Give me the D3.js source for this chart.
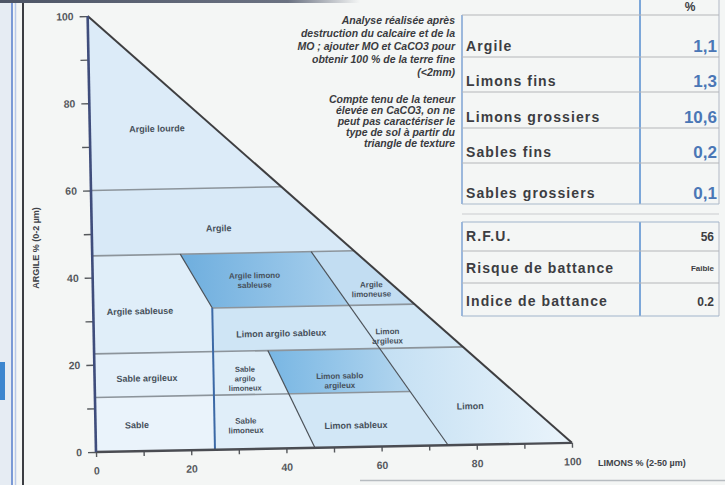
<!DOCTYPE html>
<html><head><meta charset="utf-8">
<script src="https://cdn.jsdelivr.net/npm/d3@7"></script>
<style>
body{margin:0;background:#f4f6f5;}
svg{display:block;font-family:"Liberation Sans",Arial,sans-serif;}
</style></head><body>
<svg id="c" width="725" height="485"></svg>
<script>
// Texture classes of the triangle, vertices given as [limon %, argile %]
const classNames = ["Argile lourde","Argile","Argile sableuse","Argile limono sableuse","Argile limoneuse",
  "Limon argilo sableux","Limon argileux","Sable argileux","Sable argilo limoneux","Limon sablo argileux",
  "Limon","Sable","Sable limoneux","Limon sableux"];
const classPolygons = [
  [[0,60],[0,100],[40,60]],
  [[0,45],[0,60],[40,60],[55,45]],
  [[0,22.5],[0,45],[18.5,45],[25,32.5],[25,22.5]],
  [[18.5,45],[46,45],[53.8,32.5],[25,32.5]],
  [[46,45],[55,45],[67.5,32.5],[53.8,32.5]],
  [[25,32.5],[53.8,32.5],[60,22.5],[25,22.5]],
  [[53.8,32.5],[67.5,32.5],[77.5,22.5],[60,22.5]],
  [[0,12.5],[0,22.5],[25,22.5],[25,12.5]],
  [[25,12.5],[25,22.5],[36.5,22.5],[40.7,12.5]],
  [[36.5,22.5],[60,22.5],[66.2,12.5],[40.7,12.5]],
  [[60,22.5],[77.5,22.5],[100,0],[74,0],[66.2,12.5]],
  [[0,0],[0,12.5],[25,12.5],[25,0]],
  [[25,0],[25,12.5],[40.7,12.5],[46,0]],
  [[46,0],[40.7,12.5],[66.2,12.5],[74,0]]
];
// Class boundaries
const clayLines = [[0,40,60],[0,55,45],[25,67.5,32.5],[0,77.5,22.5],[0,66.2,12.5]]; // [from limon, to limon, argile]
const slantLines = [[[18.5,45],[25,32.5]],[[46,45],[74,0]],[[36.5,22.5],[46,0]]];
const sandLimit = [[25,0],[25,32.5]];
const limonTicks = [0,10,20,30,40,50,60,70,80,90,100];
const argileTicks = [0,10,20,30,40,50,60,70,80,90,100];

// Laboratory results
const fractionLabels = ["Argile","Limons fins","Limons grossiers","Sables fins","Sables grossiers"];
const fractionValues = ["1,1","1,3","10,6","0,2","0,1"];
const indicatorLabels = ["R.F.U.","Risque de battance","Indice de battance"];
const indicatorValues = ["56","Faible","0.2"];
const noteAnalyse = ["Analyse réalisée après","destruction du calcaire et de la","MO ; ajouter MO et CaCO3 pour","obtenir 100 % de la terre fine","(<2mm)"];
const noteCalcaire = ["Compte tenu de la teneur","élevée en CaCO3, on ne","peut pas caractériser le","type de sol à partir du","triangle de texture"];

// Class styling and label anchors
const classFill = ["#dcebf8","#d8e9f7","#e0eef9","url(#gDark)","#c2ddf2","#cfe5f5","#d2e7f6",
  "#e4f0fa","#ddedf8","url(#gDark2)","url(#gLimon)","#eaf3fb","#e0eef9","#d2e7f6"];
const labelAt = [[14.1,73.9],[26.7,50.8],[9.8,32.1],[34,38.8],[58.5,36.2],[39.4,26.4],[61.7,25.4],
  [11,16.7],[31.6,16.3],[51.5,15.4],[78.8,8.9],[8.7,6],[31.6,5.5],[54.7,5]];
const labelLines = [["Argile lourde"],["Argile"],["Argile sableuse"],["Argile limono","sableuse"],["Argile","limoneuse"],
  ["Limon argilo sableux"],["Limon","argileux"],["Sable argileux"],["Sable","argilo","limoneux"],["Limon sablo","argileux"],
  ["Limon"],["Sable"],["Sable","limoneux"],["Limon sableux"]];

const svg = d3.select("#c");
const defs = svg.append("defs");
function grad(id, stops){
  const g = defs.append("linearGradient").attr("id",id).attr("x1","0").attr("x2","1").attr("y1","0").attr("y2","0");
  stops.forEach(([o,c]) => g.append("stop").attr("offset",o).attr("stop-color",c));
}
grad("gDark",[[0,"#6eaede"],[1,"#a9d0ed"]]);
grad("gDark2",[[0,"#78b6e3"],[1,"#b3d6ef"]]);
grad("gLimon",[[0,"#c3dff3"],[1,"#eaf4fb"]]);
grad("gTop",[[0,"#4d5566"],[0.8,"#6b7282"],[1,"#f4f6f5"]]);

// page frame
svg.append("rect").attr("x",0).attr("y",0).attr("width",11).attr("height",485).attr("fill","#e6ecf3");
svg.append("rect").attr("x",0).attr("y",362).attr("width",5).attr("height",38).attr("fill","#3d86cf");
svg.append("line").attr("x1",12).attr("x2",12).attr("y1",0).attr("y2",485).attr("stroke","#7b9ad6").attr("stroke-width",2);
svg.append("line").attr("x1",15.5).attr("x2",15.5).attr("y1",0).attr("y2",485).attr("stroke","#b9c9e8").attr("stroke-width",1.5);
svg.append("line").attr("x1",23).attr("x2",23).attr("y1",0).attr("y2",485).attr("stroke","#3b3d42").attr("stroke-width",2);
svg.append("rect").attr("x",0).attr("y",0).attr("width",360).attr("height",3).attr("fill","url(#gTop)");
svg.append("line").attr("x1",360).attr("x2",725).attr("y1",480.5).attr("y2",480.5).attr("stroke","#b7bcc1").attr("stroke-width",1.5);

const x = d3.scaleLinear().domain([0,100]).range([96,572]);
const y = d3.scaleLinear().domain([0,100]).range([452,16]);
const pt = d => [x(d[0]), y(d[1])];

const g = svg.append("g").attr("transform","rotate(-1.1,96,452)");

g.selectAll("path.cls").data(classPolygons).join("path").attr("class","cls")
  .attr("d", p => "M" + p.map(pt).join("L") + "Z")
  .attr("fill",(p,i) => classFill[i]).attr("stroke","none");

const line = d3.line().x(d => x(d[0])).y(d => y(d[1]));
g.selectAll("path.clay").data(clayLines).join("path").attr("class","clay")
  .attr("d", c => line([[c[0],c[2]],[c[1],c[2]]]))
  .attr("stroke","#8c949b").attr("stroke-width",1.6).attr("fill","none");
g.selectAll("path.slant").data(slantLines).join("path").attr("class","slant")
  .attr("d", line).attr("stroke","#4c5259").attr("stroke-width",1.2).attr("fill","none");
g.append("path").attr("d", line(sandLimit)).attr("stroke","#3c69a6").attr("stroke-width",2).attr("fill","none");

// triangle edges
g.append("path").attr("d", line([[0,100],[100,0]])).attr("stroke","#3e3e40").attr("stroke-width",2).attr("fill","none");

// axes
const xAxis = d3.axisBottom(x).tickValues(limonTicks).tickSize(5).tickPadding(10)
  .tickFormat(d => d % 20 === 0 ? d : "");
const gx = g.append("g").attr("transform",`translate(0,${y(0)})`).call(xAxis);
const yAxis = d3.axisLeft(y).tickValues(argileTicks).tickSize(8).tickPadding(6)
  .tickFormat(d => d % 20 === 0 ? d : "");
const gy = g.append("g").attr("transform",`translate(${x(0)},0)`).call(yAxis);
[gx,gy].forEach(a => {
  a.select(".domain").remove();
  a.selectAll(".tick line").attr("stroke","#55585c").attr("stroke-width",1.4);
  a.selectAll(".tick text").attr("fill","#56595e").attr("font-size",10.5).attr("font-weight","bold");
});
g.append("path").attr("d", line([[0,0],[100,0]])).attr("stroke","#4a4c52").attr("stroke-width",2.4).attr("fill","none");
g.append("path").attr("d", line([[0,0],[0,100]])).attr("stroke","#3f4d7c").attr("stroke-width",2.6).attr("fill","none");

// class names
const lbl = g.selectAll("text.cl").data(labelLines).join("text").attr("class","cl")
  .attr("x",(d,i) => x(labelAt[i][0])).attr("y",(d,i) => y(labelAt[i][1]))
  .attr("text-anchor","middle").attr("fill","#46505b")
  .attr("font-size",d => d.length > 2 ? 7.5 : d.length > 1 ? 8 : 9).attr("font-weight","bold");
lbl.each(function(d){
  const t = d3.select(this), h = d.length > 1 ? 9.5 : 10;
  d.forEach((s,k) => t.append("tspan").attr("x", t.attr("x"))
    .attr("dy", k === 0 ? (-(d.length-1)*h/2 + 3.2) : h).text(s));
});

// axis titles
svg.append("text").attr("transform","translate(39,248) rotate(-90)").attr("text-anchor","middle")
  .attr("font-size",9).attr("font-weight","bold").attr("fill","#404248").text("ARGILE % (0-2 µm)");
svg.append("text").attr("x",598).attr("y",466).attr("font-size",9).attr("font-weight","bold")
  .attr("fill","#404248").text("LIMONS % (2-50 µm)");

// notes
function note(lines, y0, dy){
  svg.append("g").selectAll("text").data(lines).join("text")
    .attr("x",455).attr("y",(d,i) => y0 + i*dy).attr("text-anchor","end")
    .attr("font-size",10.5).attr("font-weight","bold").attr("font-style","italic").attr("fill","#3a3b40").text(d => d);
}
note(noteAnalyse, 24, 13);
note(noteCalcaire, 103, 11);

// results table
const tb = svg.append("g");
const rowB = [15,57,92,128,163,204];
tb.append("line").attr("x1",640).attr("x2",640).attr("y1",0).attr("y2",204).attr("stroke","#6f9fd6").attr("stroke-width",1.8);
tb.append("line").attr("x1",462).attr("x2",462).attr("y1",15).attr("y2",204).attr("stroke","#86a9d6").attr("stroke-width",1.6);
tb.append("line").attr("x1",719).attr("x2",719).attr("y1",0).attr("y2",204).attr("stroke","#c4cbd3").attr("stroke-width",1.4);
tb.selectAll("line.r").data(rowB).join("line").attr("class","r")
  .attr("x1",462).attr("x2",719).attr("y1",d => d).attr("y2",d => d)
  .attr("stroke",(d,i) => i === rowB.length-1 ? "#a9b9cc" : "#b3b6ba").attr("stroke-width",1.2);
tb.append("text").attr("x",690).attr("y",11).attr("text-anchor","middle").attr("font-size",12)
  .attr("font-weight","bold").attr("fill","#3c3d42").text("%");
tb.selectAll("text.fl").data(fractionLabels).join("text").attr("class","fl")
  .attr("x",466).attr("y",(d,i) => rowB[i+1]-6).attr("font-size",14).attr("font-weight","bold")
  .attr("letter-spacing",1.1).attr("fill","#3c3d42").text(d => d);
tb.selectAll("text.fv").data(fractionValues).join("text").attr("class","fv")
  .attr("x",717).attr("y",(d,i) => rowB[i+1]-5).attr("text-anchor","end").attr("font-size",17)
  .attr("font-weight","bold").attr("fill","#4a77b6").text(d => d);

// indicators table
const rowC = [222,251,283,316];
tb.append("line").attr("x1",462).attr("x2",719).attr("y1",214).attr("y2",214).attr("stroke","#c9cccf").attr("stroke-width",1.2);
tb.append("line").attr("x1",462).attr("x2",462).attr("y1",222).attr("y2",316).attr("stroke","#86a9d6").attr("stroke-width",1.6);
tb.append("line").attr("x1",640).attr("x2",640).attr("y1",222).attr("y2",316).attr("stroke","#6f9fd6").attr("stroke-width",1.8);
tb.append("line").attr("x1",719).attr("x2",719).attr("y1",222).attr("y2",316).attr("stroke","#c4cbd3").attr("stroke-width",1.4);
tb.selectAll("line.c").data(rowC).join("line").attr("class","c")
  .attr("x1",462).attr("x2",719).attr("y1",d => d).attr("y2",d => d)
  .attr("stroke",(d,i) => i === 0 || i === rowC.length-1 ? "#9fb4cc" : "#b3b6ba").attr("stroke-width",1.2);
tb.selectAll("text.il").data(indicatorLabels).join("text").attr("class","il")
  .attr("x",466).attr("y",(d,i) => rowC[i+1]-10).attr("font-size",14).attr("font-weight","bold")
  .attr("letter-spacing",1.1).attr("fill","#3c3d42").text(d => d);
tb.selectAll("text.iv").data(indicatorValues).join("text").attr("class","iv")
  .attr("x",714).attr("y",(d,i) => rowC[i+1]-10 - (i===1?2:0)).attr("text-anchor","end")
  .attr("font-size",(d,i) => i === 1 ? 8 : 12).attr("font-weight","bold").attr("fill","#3c3d42").text(d => d);
</script>
</body></html>
